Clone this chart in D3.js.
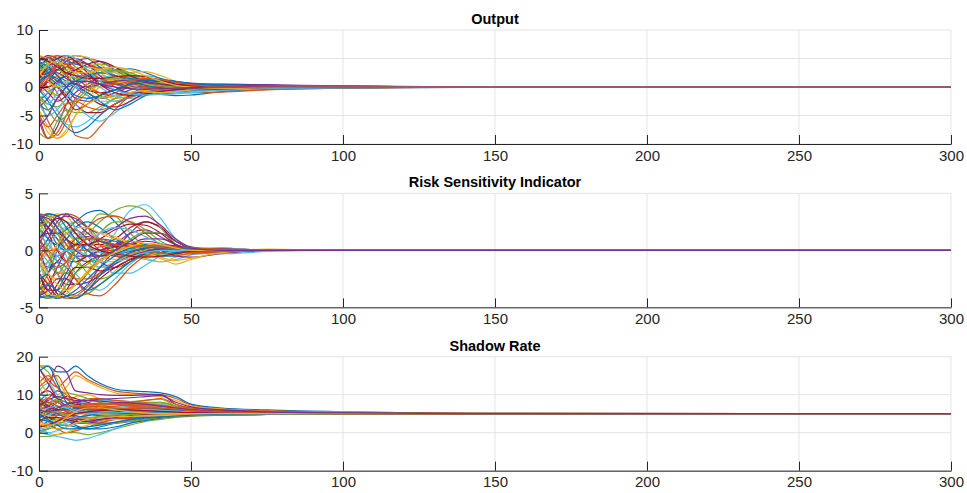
<!DOCTYPE html>
<html><head><meta charset="utf-8">
<script src="https://cdn.jsdelivr.net/npm/d3@7"></script>
<style>body{margin:0;background:#fff}svg{display:block}text{font-family:"Liberation Sans",Arial,Helvetica,sans-serif}</style>
</head><body><div id="chart"></div>
<script>
// time grid (periods) at which each path value was read
const periods = [0,3,6,9,12,16,20,25,30,35,40,45,50,60,75,100,150,300];
const xTicks = [0,50,100,150,200,250,300];

const titles = ["Output","Risk Sensitivity Indicator","Shadow Rate"];
const yDomains = [[-10,10],[-5,5],[-10,20]];
const yTicksList = [[-10,-5,0,5,10],[-5,0,5],[-10,0,10,20]];

const outputPaths = [
[5,5.2,4,2,0.5,-1,-2,-1.5,-0.5,0.5,0.8,0.6,0.3,0.1,0,0,0,0],
[-2,-6,-8.5,-6,-3,-1,0.5,1,0.8,0.4,0.2,0.1,0,-0.1,0,0,0,0],
[3,4,5,5.5,5,4,2.5,1,0,-0.8,-1,-0.7,-0.4,-0.2,0,0,0,0],
[-5,-9,-7,-3,-1,0.5,1.5,1.2,0.8,0.3,0,-0.2,-0.2,-0.1,0,0,0,0],
[1,2,3,2.5,1.5,0,-1.5,-2.5,-1.5,-0.5,0.3,0.5,0.4,0.2,0.1,0,0,0],
[0,-2,-4,-6.5,-7,-6,-4,-2,-1,-0.5,-0.2,0,0.1,0.2,0.1,0,0,0],
[4.5,5.5,5,3,1,-0.5,-1,-0.5,0.5,1,0.8,0.4,0.2,0,0,0,0,0],
[-3,-4,-2,0,1.5,2,1.5,0.5,-0.3,-0.6,-0.5,-0.3,-0.1,0,0,0,0,0],
[2,1,-1,-4,-8.5,-9,-7,-4,-1.5,0,0.5,0.6,0.5,0.3,0.1,0,0,0],
[-1,0,1.5,2.5,2,0.5,-1,-2,-1.5,-0.5,0.2,0.4,0.3,0.1,0,0,0,0],
[5.5,4.5,3,3.5,4.5,5,4.5,3,1.5,0.5,0,-0.3,-0.4,-0.2,-0.1,0,0,0],
[-8,-9,-6,-4,-4.5,-4.5,-3.5,-2,-1,-0.5,-0.3,-0.2,-0.1,0,0,0,0,0],
[0.5,3,4.5,4,2.5,1,0,0.5,1.5,2,1.5,0.8,0.3,0,0,0,0,0],
[-2.5,-1,0,-1.5,-3,-4.5,-4.5,-3,-1.5,-0.5,0,0.2,0.2,0.1,0,0,0,0],
[3.5,2,0.5,0,0.5,1.5,2.5,3,3.2,2.5,1.5,0.6,0.2,0,0,0,0,0],
[1.5,4,5.5,5,3.5,2,1,0.5,0.2,0,-0.3,-0.5,-0.5,-0.3,-0.1,0,0,0],
[-4,-7,-9,-8,-5,-2,0,1,1,0.5,0.2,0,-0.1,0,0,0,0,0],
[2.5,3.5,2,0,-2,-2.5,-2,-1,0,0.8,1,0.8,0.5,0.2,0.1,0,0,0],
[-1.5,-3,-3.5,-2,0,1.5,2.5,2.5,1.8,1,0.5,0.2,0,0,0,0,0,0],
[4,3,1,-1,-3,-5,-6,-4.5,-2.5,-1.2,-0.5,-0.2,0,0.1,0,0,0,0],
[0,1,2,3.5,4.5,4,3,2,1.2,0.7,0.4,0.3,0.2,0.1,0,0,0,0],
[-0.5,-2.5,-5,-7,-8,-7,-5,-3,-1.8,-1.2,-1.3,-1.5,-1.4,-0.8,-0.3,-0.1,0,0],
[3,5,5.5,4,2,0,-1,-1.5,-1.2,-0.6,-0.2,0,0.1,0.1,0,0,0,0],
[1,-0.5,-2,-3,-2.5,-1,0.5,1.5,2.5,2.7,2,1,0.5,0.2,0.1,0,0,0],
[-3.5,-2,0.5,2.5,3,2,0.5,-0.5,-1,-1,-0.8,-0.5,-0.3,-0.2,-0.1,0,0,0],
[2,0,-1.5,-1,0.5,2.5,3.5,3,2,1.2,0.8,0.6,0.5,0.4,0.3,0.1,0,0],
[5,4,2.5,1.5,1,1.5,2,1.5,0.5,-0.2,-0.5,-0.6,-0.5,-0.4,-0.2,-0.1,0,0],
[-1,1,0,-2,-4,-3,-1.5,-0.5,0,0.2,0.3,0.3,0.2,0.1,0.1,0,0,0],
[1.5,2.5,4,5,5.5,5,3.5,1.5,0,-1,-1.2,-1,-0.7,-0.4,-0.2,0,0,0],
[-6,-9,-8,-5,-2,0,1,0.8,0.3,-0.2,-0.4,-0.3,-0.2,-0.1,0,0,0,0],
[3,1.5,2,3,3.5,3,2,1,0.5,0.3,0.2,0.1,0,0,0,0,0,0],
[0.5,-1,-2.5,-1.5,0.5,1,0.5,-0.5,-1,-0.8,-0.5,-0.3,-0.2,-0.1,0,0,0,0],
[4,2,0,1,2.5,3.5,4,3.5,2.5,1.5,0.8,0.3,0,-0.1,0,0,0,0],
[-2,-3,-1,1,2,1.5,0,-1.5,-2,-1.5,-0.8,-0.3,0,0.1,0,0,0,0],
[2.5,5,4,2,0,-1.5,-3,-3.5,-2.5,-1,0,0.4,0.5,0.3,0.1,0,0,0],
[4,4.5,5,4.5,4,3.5,3,2,1,0.3,-0.2,-0.4,-0.5,-0.6,-0.4,-0.2,-0.05,0],
[2,3,3.5,4,4.2,4,3.2,2,0.8,0,-0.5,-0.8,-1,-0.9,-0.5,-0.2,0,0],
[5.5,5,4,4.5,5.5,5.2,4,2.5,1.5,1,0.8,0.7,0.6,0.5,0.3,0.1,0,0],
[-1,1,3,4.5,5,4,2,0,-1,-1,-0.6,-0.2,0.2,0.5,0.4,0.2,0,0],
[3,4,4,3,2,2,2.5,2.8,2.5,1.5,0.7,0.2,-0.1,-0.3,-0.2,-0.1,0,0],
[-3,-5,-4,-2,0,2,3,2,0.5,-0.5,-1,-1,-0.8,-0.5,-0.2,-0.1,0,0],
[1,0,1,2,3,4,4.5,3.5,2,1,0.5,0.3,0.3,0.3,0.2,0.1,0,0],
[4.5,3.5,2,1,0,-1,-2.5,-4,-3,-1.5,-0.5,0,0.2,0.3,0.2,0.1,0,0],
[0,2,4,5,4.5,3,1.5,0.5,0,-0.2,-0.3,-0.3,-0.2,-0.2,-0.1,0,0,0],
[-4.5,-8,-9,-7.5,-5,-3,-2,-1.5,-1,-0.6,-0.3,-0.1,0,0.1,0.1,0,0,0],
[2,2.5,3,3.5,3,2,1,0.5,0.5,0.8,1,0.9,0.7,0.4,0.2,0.1,0,0],
[3.5,4.5,3.5,2,1.5,2,3,3,2.2,1.2,0.4,0,-0.2,-0.2,-0.1,0,0,0],
[-2,-1,0.5,1,0,-1.5,-2.5,-2.5,-1.8,-1,-0.5,-0.2,0,0.2,0.2,0.1,0,0],
[1.5,3.5,5,5.5,4.5,2.5,0.5,-1,-1.5,-1.2,-0.8,-0.5,-0.3,-0.1,0,0,0,0],
[4,2.5,1,0.5,1,2,2.5,2,1.5,1.2,1,0.8,0.6,0.4,0.2,0.1,0,0],
[-5,-7,-5,-3,-2.5,-3.5,-4,-3,-1.8,-1,-0.5,-0.2,0,0,0,0,0,0],
[2.5,1,0,1,2.5,3.5,3,1.5,0,-0.8,-1,-0.8,-0.5,-0.3,-0.1,0,0,0],
[0.5,2,2.5,1.5,0.5,0,0.5,1,1.2,1,0.5,0,-0.3,-0.4,-0.3,-0.1,0,0],
[-1.5,-4,-6,-5,-2.5,-0.5,1,1.5,1.2,0.6,0.2,0,-0.1,-0.1,0,0,0,0],
[3,3.5,4.5,5.5,5,3,1,-0.5,-1.2,-1.4,-1.3,-1.2,-1,-0.6,-0.3,-0.1,0,0],
[5,4.5,3.5,2.5,2,1.5,1.5,1.8,2,1.8,1.2,0.5,0.1,-0.1,-0.1,0,0,0],
[1,2,1.5,0,-1.5,-2,-1.5,-0.5,0.5,1.2,1.3,1,0.6,0.2,0,0,0,0],
[-0.5,1.5,3.5,4,3,1.5,0.5,0.5,1,1.5,1.3,0.8,0.4,0.1,0,0,0,0],
[2,4,4.5,3.5,2.5,2.5,3,3.5,3,2,1,0.3,0,-0.2,-0.1,0,0,0],
[-7,-5,-2,0,1,1,0.5,0,-0.3,-0.4,-0.3,-0.2,-0.1,0,0,0,0,0]
];

const riskPaths = [
[3.2,3,2,0.5,-0.5,-1,-0.8,-0.3,0,0.2,0.2,0.1,0,0,0,0,0,0],
[-4,-4.2,-4,-3.5,-3,-2,-1,0,0.5,0.4,0.2,0,-0.1,0,0,0,0,0],
[1,2.5,3.2,3,2,0.5,-0.5,-0.8,-0.4,0,0.2,0.1,0,0,0,0,0,0],
[-2,-3.5,-4.2,-4,-3.8,-3,-1.5,0,1.5,2.5,2,0.5,0,-0.1,0,0,0,0],
[0,-1,-2,-1,0.5,2,3.2,3,1.5,0.3,-0.3,-0.3,-0.1,0,0,0,0,0],
[2.5,1,-1,-2.5,-3,-2,-0.5,1.5,3.5,4,2.8,1,0.2,0,0,0,0,0],
[-3.5,-2,0,1.5,1.8,1,0,-0.5,-0.5,-0.2,0,0,0,0,0,0,0,0],
[3,2,1.5,1.8,2.5,3.3,3.5,2.5,1,0,-0.5,-0.5,-0.2,0,0,0,0,0],
[-1,-2.5,-3.8,-4.2,-4,-3.2,-2,-1,-0.3,0,0.3,0.2,0.1,0,0,0,0,0],
[1.5,0.5,0,0.5,1,1,0.5,0,-0.3,-0.5,-0.7,-1.2,-0.8,-0.2,0.1,0,0,0],
[-4,-3,-1.5,0,1,1.2,0.8,0.3,0,0,0,0,0,0,0,0,0,0],
[2,3,2.5,1,-0.5,-2,-2.5,-2,-1,0,0.5,0.3,0,0,0,0,0,0],
[0.5,1.5,1,-0.5,-2,-3,-3.5,-2.5,-1.2,-0.3,0.2,0.3,0.2,0.1,0,0,0,0],
[-3,-4,-3,-1.5,0,0.5,0.5,1,2,2.5,2,0.8,0.2,0,0,0,0,0],
[3.3,2,0.5,0,0.5,1,1,0.8,0.5,0.5,0.5,0.3,0.1,0,0,0,0,0],
[-0.5,0.5,2,3.2,3,2,0.5,-0.5,-0.8,-0.5,-0.2,0,0,0,0,0,0,0],
[-2.5,-4,-4.2,-3,-1.5,0,0.8,0.5,0,-0.3,-0.3,-0.2,-0.1,0,0,0,0,0],
[1,-0.5,-2,-3,-3,-2,-0.5,0.5,1.5,1.8,1.2,0.5,0.1,0,0,0,0,0],
[2.8,3.2,2.5,1.5,1,1.5,2.5,3.5,3.9,3.5,2,0.5,0,0,0,0,0,0],
[-1.5,-1,0,1,1.5,1.5,1,0,-0.5,-0.8,-1,-0.8,-0.4,-0.1,0,0,0,0],
[0,-2,-3.8,-4.2,-4.2,-3.5,-2.5,-1.5,-0.8,-0.5,-0.3,-0.2,-0.1,0,0,0,0,0],
[2,1,0.5,1,2,2.5,2,1,0.5,0.2,0,0,0,0,0,0,0,0],
[-3.8,-3,-2,-2,-2.5,-2.5,-2,-1.2,-0.5,0,0.2,0.1,0,0,0,0,0,0],
[1.5,2.8,3,2,0.5,-1,-1.5,-1,-0.5,-0.7,-1,-0.6,-0.3,0,0,0,0,0],
[-0.5,-1.5,-1,0,0.5,0,-1,-1.5,-1,-0.3,0,0.1,0.1,0.2,0,0,0,0],
[0.5,0,-1,-2,-1.5,0,1.5,2.5,2.5,1.8,0.8,0.2,-0.2,-0.1,0,0,0,0],
[-2,-1,0.5,1.5,1,-0.5,-1.5,-1.2,-0.5,0,0.3,0.3,0.2,0.2,0,0,0,0],
[3,1.5,0,-1,-1,-0.5,0,0.3,0.5,0.8,0.6,0.2,-0.3,-0.2,0,0,0,0],
[-4,-4.2,-3.5,-2,-0.5,0.5,0.8,0.5,0.2,0,-0.2,-0.2,-0.1,0,0,0,0,0],
[1,0,-0.5,0,1,2,2.8,3,2.5,1.5,0.5,0,-0.2,-0.1,0,0,0,0],
[-1,-3,-4,-4.2,-4,-3.8,-3,-1.8,-0.7,0,0.4,0.4,0.2,0,0,0,0,0],
[2.5,2,1,0,-0.5,-0.5,0,0.5,0.8,0.5,0,-0.5,-0.6,-0.3,0,0,0,0],
[-3,-1.5,0.5,2,2.5,2,1,0,-0.5,-0.5,-0.3,-0.1,0,0,0,0,0,0],
[0,1,2,2.5,2,0.5,-1,-2,-2,-1.3,-0.5,0,0.1,0,0,0,0,0],
[-2,-3,-4,-3.5,-2,-1,-0.5,-0.3,-0.1,0.2,0.5,0.4,0.2,0,0,0,0,0],
[-4.2,-4,-4.2,-4,-3.5,-2.5,-1.5,-0.5,0,0.3,0.3,0.2,0.1,0.1,0,0,0,0],
[3,3.2,3,2.5,1.5,0.5,0,0,0.3,0.5,0.5,0.3,0.1,0.1,0.05,0,0,0],
[-3,-3.8,-4,-3.8,-3,-1.8,-0.8,0,0.4,0.5,0.3,0.1,0,0,0,0,0,0],
[0,1,2.5,3,2.8,2,1.5,2,2.8,3,2.2,1,0.3,0,0,0,0,0],
[2,0,-2,-3.5,-4,-3.8,-3,-2,-1,-0.4,0,0.2,0.2,0.1,0,0,0,0],
[-1.5,0,1.5,2,1.5,0.5,-0.2,-0.3,0,0.3,0.3,0,-0.3,-0.3,-0.1,0,0,0],
[1,1.5,1.5,1,0.5,0.5,1,1.8,2.3,2.2,1.5,0.5,0,-0.1,0,0,0,0],
[-2.5,-2,-1,-1.5,-2.5,-3.5,-3,-2,-1,-0.3,0,0.1,0.1,0,0,0,0,0],
[3.2,2.5,1.5,0.5,0,0,0.3,0.5,0.5,0.2,-0.2,-0.4,-0.3,-0.1,0,0,0,0],
[-0.5,-2,-2.5,-1.5,0,1,1.5,1.2,0.5,-0.2,-0.6,-0.9,-0.7,-0.2,0,0,0,0],
[0.5,2,3,3.2,2.5,1.5,0.8,0.5,0.6,1,1,0.5,0.1,0,0,0,0,0],
[-3.5,-4.2,-4,-3,-2,-1.2,-0.5,0,0.2,0.3,0.2,0.1,0,0,0,0,0,0],
[1.5,0.5,-0.5,-1,-0.5,0.5,1.5,2,1.8,1.2,0.6,0.2,0,0,0,0,0,0],
[-2,-3.5,-3.5,-2.5,-1.5,-1.5,-1.8,-1.5,-0.8,-0.2,0.1,0.1,0,0,0,0,0,0],
[2.5,3.2,3,2,1,0,-0.5,-0.3,0.2,0.5,0.3,0,-0.1,0,0,0,0,0],
[-1,0,0,-1,-2.5,-3.8,-4,-3,-1.5,-0.5,0,0.2,0.2,0.1,0,0,0,0],
[0,-0.5,0.5,1.5,2,2,1.5,1,0.8,0.6,0.3,0.1,0,0,0,0,0,0],
[-4,-3.5,-2.5,-2.5,-3,-2.8,-2.2,-1.2,-0.5,-0.1,0.1,0.1,0,0.1,0,0,0,0],
[2,2.5,1.5,0,-1,-1.5,-1,0,1,1.6,1.5,0.8,0.2,0,0,0,0,0],
[-2.5,-1.5,-0.5,0,0,-0.5,-1,-1,-0.6,-0.2,0,0,0,0,0,0,0,0],
[1,2,2.8,2.5,1.5,0.5,0,-0.3,-0.5,-0.6,-0.5,-0.3,-0.1,0,0,0,0,0],
[-3.5,-3,-3.5,-4,-4.2,-3.5,-2.2,-1,-0.2,0.2,0.3,0.2,0.1,0,0,0,0,0],
[0.5,-0.5,-1.5,-1,0,1,1,0.5,0.3,0.4,0.4,0.2,0,-0.1,0,0,0,0],
[-1,-2,-3,-3.5,-3,-2,-1,-0.2,0.3,0.6,0.5,0.2,0,0,0,0,0,0],
[3,2.8,2,1,0,-0.5,-0.5,0,0.8,1.5,1.5,0.8,0.2,0,0,0,0,0]
];

const shadowPaths = [
[17.5,17.5,16,16,17.5,15,13,11.5,11,10.8,10.5,9.5,7.5,6.5,6,5.5,5.1,5],
[17,14,12,14,16,14,12.5,11,10.5,10.2,10,9,7.3,6.3,5.8,5.4,5.1,5],
[15,13,10,12,15,13.5,12,10.5,10,9.8,9.5,8.5,7,6.2,5.7,5.4,5.1,5],
[10,12,17.5,16,11,10.5,10,9.8,9.8,10,10,7.5,6.5,6,5.6,5.3,5.1,5],
[-1,-1,-0.5,0,0,-0.5,0,1,2,3,3.5,4,4.3,4.6,4.8,4.9,5,5],
[0,-0.5,-1,-1.5,-2,-1.5,-0.5,1,2.5,3.5,4,4.3,4.5,4.7,4.8,4.9,5,5],
[5,3,1,1.5,3,5,6,6.5,6.5,6,5.8,5.6,5.5,5.3,5.2,5.1,5,5],
[8,10,9,7,6,5.5,5,4.8,4.6,4.6,4.7,4.8,4.8,4.9,4.9,5,5,5],
[3,2,1,0,0.5,1.5,2.5,3.5,4,4.3,4.5,4.6,4.7,4.8,4.9,5,5,5],
[12,8,6,7,9.5,10,9,8,7.5,7.5,7.8,6.5,6,5.6,5.3,5.1,5,5],
[6,7,8,6,4,3,3.2,3.8,4.2,4.5,4.6,4.7,4.8,4.9,4.9,5,5,5],
[17.5,16,12,9,7,6,5.5,5.5,5.5,5.4,5.3,5.2,5.2,5.1,5.1,5,5,5],
[1,1.5,3,5,7,8,8.5,8.5,8,7.8,7.5,6.5,6,5.6,5.3,5.1,5,5],
[9,6,4,3,2.5,2.5,3,3.5,3.8,4,4.2,4.4,4.6,4.8,4.9,5,5,5],
[4,5,6.5,7.5,8,7.5,7,6.8,6.6,6.5,6.4,6,5.8,5.5,5.3,5.1,5,5],
[13,15,12,9,8,9,9,8.5,8.2,8,8,7,6.3,5.8,5.4,5.2,5,5],
[2,0,-0.5,0,1,2,3,3.5,3.5,3.5,3.8,4.2,4.5,4.7,4.8,4.9,5,5],
[7,9,11,10,8,6.5,6,6,6.2,6.3,6.2,5.8,5.5,5.3,5.2,5.1,5,5],
[5.5,4,3,4,5.5,6.5,7.5,8,8.2,8.5,8.8,7,6.2,5.7,5.4,5.1,5,5],
[11,13,10,6,4,3.5,3.5,4,4.3,4.5,4.6,4.7,4.8,4.9,4.9,5,5,5],
[3.5,6,8,9.5,9,8,7,6,5.5,5.2,5,5,5,5,5,5,5,5],
[0.5,1,2,2,1.5,1,1,1.5,2.5,3.2,3.8,4.2,4.5,4.7,4.8,4.9,5,5],
[6.5,5,4.5,5,6,7,7.5,7.8,8,8.5,9,7.5,6.5,5.8,5.4,5.2,5,5],
[17.5,17.5,14,10,7,5,4.5,4.5,4.6,4.7,4.8,4.8,4.9,4.9,5,5,5,5],
[2.5,4,5,5,4.5,4,4,4.2,4.4,4.5,4.6,4.7,4.8,4.9,4.9,5,5,5],
[8.5,7,5.5,4.5,4,4.5,5.5,6,6.3,6.5,6.5,6,5.6,5.3,5.2,5.1,5,5],
[4.5,3,2,2.5,3.5,5,6,6.5,7,7.2,7,6.2,5.8,5.5,5.3,5.1,5,5],
[10,11,9,8,7.5,7,6.5,6,5.8,5.6,5.5,5.4,5.3,5.2,5.1,5,5,5],
[1.5,3,4,3.5,2,1,1.5,2.5,3.5,4,4.3,4.5,4.6,4.8,4.9,5,5,5],
[7.5,8,6,5,5.5,6.5,7,7.5,7.8,7.5,7.2,6.5,6,5.6,5.3,5.1,5,5],
[14,10,7,6,6.5,7,7,6.8,6.5,6.2,6,5.7,5.5,5.3,5.2,5.1,5,5],
[5,6,7,5.5,4,3,2.5,2.5,3,3.5,4,4.3,4.5,4.7,4.8,4.9,5,5],
[9.5,8,9,10.5,10,9,8,7.5,7.5,7.8,8,6.8,6.2,5.7,5.4,5.2,5,5],
[3,4.5,5.5,6,6,5.5,5,4.8,4.8,4.9,5,5,5,5,5,5,5,5],
[6,4,3.5,4.5,5,5,5.2,5.5,5.7,5.8,5.8,5.6,5.4,5.2,5.1,5,5,5],
[4,5,6,6.5,6,5,4.5,4.5,4.6,4.7,4.8,4.9,4.9,5,5,5,5,5],
[7,6,5,5.5,6.5,7.5,7.8,7.5,7,6.8,6.5,6,5.7,5.4,5.2,5.1,5,5],
[2,2.5,3.5,4.5,5,5,4.8,4.6,4.6,4.7,4.8,4.9,4.9,5,5,5,5,5],
[17,13,9,7,6,5.5,5.2,5,5,5,5,5,5,5,5,5,5,5],
[6,7.5,8.5,8,7,6,5.5,5.3,5.3,5.4,5.4,5.3,5.2,5.1,5.1,5,5,5],
[1,0,0.5,1.5,2.5,3,3.5,4,4.3,4.5,4.6,4.7,4.8,4.9,5,5,5,5],
[9,7,6,6,6.5,6.5,6.3,6,5.8,5.7,5.7,5.5,5.4,5.2,5.1,5.05,5,5],
[3.5,3,2.5,3,4,4.5,5,5.2,5.3,5.3,5.3,5.2,5.1,5.05,5,5,5,5],
[12,14,15,11,8,7.5,7.5,7.5,7.2,7,7,6.5,6,5.5,5.3,5.1,5,5],
[5,4.5,4,3.5,3.5,3.8,4.2,4.5,4.6,4.7,4.8,4.8,4.9,4.9,5,5,5,5],
[8,6.5,5,4,3.5,3.5,4,4.5,5,5.3,5.5,5.5,5.4,5.3,5.2,5.1,5,5],
[0,1,2,3,3,2.5,2.2,2.5,3,3.5,4,4.3,4.5,4.7,4.8,4.9,5,5],
[5.5,6.5,7,6.5,5.5,5,5,5.2,5.4,5.5,5.5,5.4,5.3,5.2,5.1,5,5,5],
[3,4,4,3.5,3,3,3.5,4,4.5,4.8,5,5,5,5,5,5,5,5],
[16,17.5,13,8,6.5,6,6,6.2,6.3,6.3,6.2,6,5.7,5.4,5.2,5.1,5,5],
[6.5,8,7,5.5,5,5.5,6.5,7,7.3,7.3,7.2,6.7,6.2,5.7,5.3,5.1,5,5],
[2.5,1.5,1,1.5,2.5,3.5,4,4.2,4.3,4.4,4.5,4.6,4.7,4.8,4.9,5,5,5],
[7,8.5,9.5,9,8.5,8.5,8.3,8,7.8,7.5,7,6.5,6,5.6,5.3,5.1,5,5],
[4.5,5.5,5.5,4.5,4,4,4.3,4.6,4.8,5,5.1,5.1,5.1,5.05,5,5,5,5],
[10.5,9,8,7,6,5.5,5.5,5.8,6,6,5.9,5.7,5.5,5.3,5.2,5.1,5,5],
[1.5,2,3,4,5,5.5,5.8,6,6,5.8,5.6,5.4,5.3,5.2,5.1,5,5,5],
[5,3.5,2,1,1,1.5,2,2.8,3.4,3.8,4.1,4.4,4.6,4.8,4.9,5,5,5],
[8,9,8,7,7,7,6.8,6.5,6.4,6.5,6.5,6.2,5.8,5.5,5.3,5.1,5,5],
[3,2,2.5,4,5.5,6.5,6.5,6,5.5,5.2,5,5,5,5,5,5,5,5],
[6,5.5,6.5,7.5,8,8.5,8.8,9,9.2,9.5,9.8,8,6.8,6,5.5,5.2,5,5]
];

const matlabColors = ["#0072BD","#D95319","#EDB120","#7E2F8E","#77AC30","#4DBEEE","#A2142F"];

const W = 967, H = 493;
const left = 39, right = 951, panelH = 114, panelTops = [30, 193.35, 356.7];
const svg = d3.select("#chart").append("svg").attr("width", W).attr("height", H);
const x = d3.scaleLinear().domain([0,300]).range([left, right]);
const allPaths = [outputPaths, riskPaths, shadowPaths];
const fontStack = '"Liberation Sans",Arial,Helvetica,sans-serif';

allPaths.forEach((paths, p) => {
  const top = panelTops[p], bottom = top + panelH;
  const y = d3.scaleLinear().domain(yDomains[p]).range([bottom, top]);
  const g = svg.append("g");
  const clipId = "clip" + p;
  svg.append("clipPath").attr("id", clipId).append("rect")
    .attr("x", left).attr("y", top - 1).attr("width", right - left).attr("height", panelH + 2);

  // grid
  g.append("g").selectAll("line").data(xTicks).join("line")
    .attr("x1", d => x(d)).attr("x2", d => x(d)).attr("y1", top).attr("y2", bottom)
    .attr("stroke", "#e3e3e3").attr("stroke-width", 1);
  g.append("g").selectAll("line").data(yTicksList[p]).join("line")
    .attr("x1", left).attr("x2", right).attr("y1", d => y(d)).attr("y2", d => y(d))
    .attr("stroke", "#e3e3e3").attr("stroke-width", 1);

  // data
  const line = d3.line().x((d, i) => x(periods[i])).y(d => y(d)).curve(d3.curveMonotoneX);
  g.append("g").attr("clip-path", `url(#${clipId})`).selectAll("path").data(paths).join("path")
    .attr("d", line).attr("fill", "none")
    .attr("stroke", (d, i) => matlabColors[i % 7]).attr("stroke-width", 1.2);

  // axes
  const xAxis = d3.axisBottom(x).tickValues(xTicks).tickFormat(d => String(d))
    .tickSizeInner(-9).tickSizeOuter(0).tickPadding(6);
  const gx = g.append("g").attr("transform", `translate(0,${bottom})`).call(xAxis);
  const yAxis = d3.axisLeft(y).tickValues(yTicksList[p]).tickFormat(d => String(d))
    .tickSizeInner(-9).tickSizeOuter(0).tickPadding(6);
  const gy = g.append("g").attr("transform", `translate(${left},0)`).call(yAxis);
  [gx, gy].forEach(a => {
    a.select(".domain").attr("stroke", "#262626").attr("stroke-width", 1);
    a.selectAll(".tick line").attr("stroke", "#262626");
    a.selectAll("text").attr("fill", "#262626").style("font-size", "15px").style("font-family", fontStack);
  });

  svg.append("text").attr("x", (left + right) / 2).attr("y", top - 6)
    .attr("text-anchor", "middle").attr("font-weight", "bold").attr("font-size", "14.5px")
    .attr("fill", "#000").text(titles[p]);
});
</script></body></html>
